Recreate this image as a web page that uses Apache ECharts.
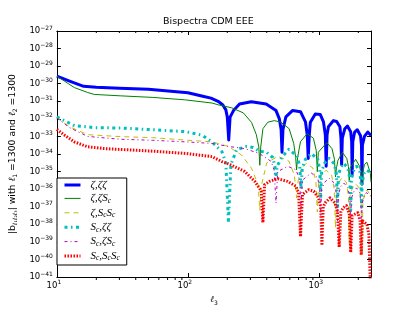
<!DOCTYPE html>
<html><head><meta charset="utf-8">
<script src="https://cdn.jsdelivr.net/npm/echarts@6/dist/echarts.min.js"></script>
<style>html,body{margin:0;padding:0;background:#fff}#c{width:413px;height:311px}</style>
</head><body><div id="c"></div>
<script>
// ---- data (y values are log10 |b|, in decades) ----
const seriesNames = ['ζ,ζζ', 'ζ,ζSc', 'ζ,ScSc', 'Sc,ζζ', 'Sc,ζSc', 'Sc,ScSc'];
const legendLabels = [
  '{m|ζ,ζζ}',
  '{m|ζ,ζS}{s|c}',
  '{m|ζ,S}{s|c}{m|S}{s|c}',
  '{m|S}{s|c}{m|,ζζ}',
  '{m|S}{s|c}{m|,ζS}{s|c}',
  '{m|S}{s|c}{m|,S}{s|c}{m|S}{s|c}'
];
const xTickValues = [10, 100, 1000];
const xMinorTicks = [20,30,40,50,60,70,80,90,200,300,400,500,600,700,800,900,2000];

const ellZZZ = [10,12.5,16,20,30,50,100,130,150,170,185,195,200,205,210,223,248,305,396,471,499,515,523,532,560,631,724,790,815,829,845,861,939,1024,1084,1120,1137,1155,1183,1290,1367,1448,1475,1491,1510,1578,1652,1749,1780,1795,1815,1875,1965,2080,2115,2133,2150,2228,2360,2500];
const logbZZZ = [-29.57,-29.85,-30.15,-30.2,-30.26,-30.31,-30.51,-30.71,-30.82,-31.0,-31.21,-31.49,-31.9,-33.2,-31.9,-31.53,-31.16,-31.03,-31.16,-31.53,-32.0,-32.6,-33.9,-32.6,-31.89,-31.52,-31.59,-32.17,-32.9,-34.25,-32.9,-32.19,-31.72,-31.75,-32.17,-32.9,-34.7,-32.9,-32.45,-32.1,-32.15,-32.45,-33.1,-34.6,-33.1,-32.56,-32.41,-32.73,-33.3,-35.15,-33.3,-32.75,-32.62,-32.96,-33.5,-35.7,-33.5,-33.0,-32.75,-32.95];

const ellZZS = [10,13.6,17.2,19.3,30.5,54,96,153,172,216,265,306,333,348,354,360,374,408,457,513,593,643,665,676,688,724,814,908,955,973,990,1025,1151,1260,1315,1339,1362,1399,1512,1633,1680,1706,1730,1781,1909,2045,2100,2135,2170,2230,2329,2474,2500];
const logbZZS = [-29.57,-30.22,-30.5,-30.61,-30.69,-30.78,-30.92,-31.1,-31.21,-31.37,-31.66,-32.2,-32.9,-33.6,-34.64,-33.6,-32.56,-32.19,-32.1,-32.19,-32.56,-33.4,-34.2,-34.9,-34.2,-33.3,-32.84,-33.1,-33.8,-35.0,-33.9,-33.8,-33.35,-33.7,-34.3,-35.3,-34.8,-34.36,-33.91,-34.25,-34.7,-35.5,-34.8,-34.7,-34.3,-34.7,-35.1,-35.8,-35.0,-34.6,-34.47,-35.1,-35.6];

const ellZSS = [10,12.5,17.2,30.5,54,97,153,204,257,306,344,354,364,400,487,590,650,676,700,740,803,900,950,973,995,1050,1135,1250,1310,1339,1365,1420,1496,1620,1680,1706,1730,1800,1909,2040,2100,2135,2170,2240,2329,2500];
const logbZSS = [-31.94,-32.45,-32.9,-33.01,-33.07,-33.21,-33.31,-33.57,-34.06,-34.81,-35.75,-37.2,-35.8,-34.5,-34.13,-34.4,-35.2,-36.5,-35.3,-34.8,-34.53,-34.8,-35.6,-37.3,-35.7,-35.2,-34.92,-35.2,-36.0,-38.2,-36.0,-35.6,-35.37,-35.6,-36.4,-39.1,-36.4,-35.95,-35.7,-35.95,-36.7,-39.7,-36.7,-36.3,-36.05,-36.4];

const ellSZZ = [10,13.6,19.3,30.5,54,97,129,153,182,195,204,213,236,281,315,353,396,445,462,471,480,520,589,680,715,731,747,790,877,980,1015,1032,1050,1110,1197,1310,1365,1387,1410,1470,1549,1660,1725,1750,1775,1860,1941,2050,2095,2118,2140,2220,2306,2420,2500];
const logbSZZ = [-31.89,-32.38,-32.5,-32.52,-32.62,-32.73,-32.94,-33.31,-33.87,-34.53,-37.9,-34.6,-33.75,-33.57,-33.63,-33.85,-33.88,-34.2,-34.7,-35.3,-34.7,-34.2,-33.74,-34.1,-34.7,-36.0,-34.8,-34.3,-33.97,-34.3,-34.9,-36.5,-35.0,-34.5,-34.25,-34.55,-35.2,-37.0,-35.2,-34.75,-34.53,-34.8,-35.4,-37.2,-35.4,-34.85,-34.7,-35.0,-35.6,-37.0,-35.6,-35.1,-34.92,-35.0,-35.2];

const ellSZS = [10,12.5,17.2,30.5,54,96,153,204,271,351,432,455,471,485,530,579,670,715,731,747,800,877,980,1015,1032,1050,1110,1197,1310,1365,1387,1410,1470,1549,1660,1725,1750,1775,1860,1941,2050,2095,2118,2140,2220,2306,2500];
const logbSZS = [-31.95,-32.5,-33.0,-33.16,-33.22,-33.31,-33.4,-33.57,-33.69,-33.97,-34.42,-34.9,-36.8,-35.0,-34.85,-34.7,-34.9,-35.5,-37.2,-35.5,-35.3,-35.09,-35.35,-36.0,-37.5,-36.0,-35.6,-35.37,-35.65,-36.3,-37.8,-36.3,-35.85,-35.65,-35.9,-36.5,-38.0,-36.5,-36.1,-35.93,-36.2,-36.8,-38.0,-36.8,-36.4,-36.2,-36.4];

const ellSSS = [10,11.5,13.6,17.2,22.9,30.5,54,97,153,182,204,271,324,363,374,385,420,485,577,665,700,724,750,764,837,913,995,1032,1055,1080,1117,1218,1328,1387,1429,1472,1531,1624,1706,1750,1795,1875,1986,2063,2105,2152,2228,2329,2410,2470];
const logbSSS = [-32.6,-32.94,-33.31,-33.59,-33.69,-33.74,-33.84,-33.97,-34.15,-34.43,-34.56,-34.99,-35.56,-36.1,-37.9,-35.75,-35.56,-35.41,-35.56,-35.82,-36.2,-38.7,-36.3,-36.2,-36.03,-36.12,-36.5,-37.0,-39.2,-37.0,-36.78,-36.5,-36.78,-37.3,-39.3,-37.3,-37.06,-36.94,-37.4,-39.6,-37.5,-37.43,-37.34,-37.8,-39.75,-37.8,-37.9,-38.0,-38.6,-41.3];

// ---- styling ----
const ellArrays = [ellZZZ, ellZZS, ellZSS, ellSZZ, ellSZS, ellSSS];
const valArrays = [logbZZZ, logbZZS, logbZSS, logbSZZ, logbSZS, logbSSS];
const colors = ['#0000ff', '#008000', '#bfbf00', '#00bfbf', '#bf00bf', '#ff0000'];
const widths = [3, 1, 1, 3, 1, 3];
const dashTypes = ['solid', 'solid', [5, 4], [3, 3.5, 1.5, 3.5], [3, 3, 1, 3], [1.5, 1.5]];

const labelMap = {};
seriesNames.forEach((n, i) => labelMap[n] = legendLabels[i]);

const chart = echarts.init(document.getElementById('c'), null, {renderer: 'canvas'});
const tickFont = 'DejaVu Sans';
const powRich = {
  b: {fontFamily: tickFont, fontSize: 8.5, lineHeight: 12, color: '#000'},
  p: {fontFamily: tickFont, fontSize: 6, lineHeight: 3, verticalAlign: 'top', color: '#000'}
};
function powText(e) {
  return '{b|10}{p|' + (e < 0 ? '\u2212' + (-e) : e) + '}';
}
const gridBox = {left: 52, right: 42, top: 31, bottom: 31};

const series = seriesNames.map((name, i) => ({
  name, type: 'line', xAxisIndex: 0, yAxisIndex: 0,
  symbol: 'none', showSymbol: false, silent: true, clip: true,
  data: ellArrays[i].map((l, j) => [l, valArrays[i][j]]),
  lineStyle: {color: colors[i], width: widths[i], type: dashTypes[i], cap: 'butt', join: 'round'},
  itemStyle: {color: colors[i], opacity: 0},
  z: 2 + i
}));

const axisLineStyle = {show: true, lineStyle: {color: '#000', width: 1}};
const tickStyle = {show: true, inside: true, length: 4, lineStyle: {color: '#000'}};
chart.setOption({
  animation: false,
  backgroundColor: '#fff',
  title: {text: 'Bispectra CDM EEE', left: 163, top: 17, padding: 0,
    textStyle: {fontFamily: tickFont, fontSize: 9.5, fontWeight: 'normal', color: '#000'}},
  grid: gridBox,
  legend: {
    orient: 'vertical', left: 57, top: 178,
    data: seriesNames.map((n, i) => ({name: n,
      lineStyle: {width: widths[i], type: dashTypes[i], color: colors[i], cap: 'butt'}})),
    itemWidth: 16, itemHeight: 10, itemGap: 2.4,
    padding: [1.5, 7, 2.5, 6],
    borderColor: '#000', borderWidth: 1, borderRadius: 0,
    backgroundColor: '#fff',
    itemStyle: {opacity: 0},
    formatter: n => labelMap[n],
    textStyle: {
      padding: [0, 0, 0, 5],
      rich: {
        m: {fontFamily: 'Liberation Serif', fontStyle: 'italic', fontSize: 11, lineHeight: 13, color: '#000'},
        s: {fontFamily: 'Liberation Serif', fontStyle: 'italic', fontSize: 7.5, lineHeight: 6, verticalAlign: 'bottom', color: '#000'}
      }
    }
  },
  xAxis: [
    {type: 'log', logBase: 10, min: 10, max: 2500, position: 'bottom',
     axisLine: axisLineStyle, splitLine: {show: false}, axisTick: tickStyle,
     axisLabel: {margin: 2.5, padding: [0, 6, 0, 0],
       formatter: v => {
         const e = Math.log10(v);
         return xTickValues.some(t => Math.abs(e - Math.log10(t)) < 1e-6) ? powText(Math.round(e)) : '';
       },
       rich: powRich},
     name: '{i|ℓ}{s|3}', nameLocation: 'middle', nameGap: 17,
     nameTextStyle: {rich: {
       i: {fontFamily: 'DejaVu Serif', fontStyle: 'italic', fontSize: 9, lineHeight: 12, color: '#000'},
       s: {fontFamily: tickFont, fontSize: 6, lineHeight: 6, verticalAlign: 'bottom', color: '#000'}}}
    },
    {type: 'log', logBase: 10, min: 10, max: 2500, position: 'top',
     axisLine: axisLineStyle, splitLine: {show: false}, axisTick: tickStyle,
     axisLabel: {show: false}}
  ],
  yAxis: [
    {type: 'value', min: -41, max: -27, interval: 1, position: 'left',
     axisLine: axisLineStyle, splitLine: {show: false}, axisTick: tickStyle,
     axisLabel: {margin: 4, formatter: v => powText(Math.round(v)), rich: powRich},
     name: '|b{s|ℓ₁ℓ₂ℓ₃}| with {i|ℓ}{s|1} =1300 and {i|ℓ}{s|2} =1300',
     nameLocation: 'middle', nameGap: 31, nameRotate: 90,
     nameTextStyle: {fontFamily: tickFont, fontSize: 9.3, color: '#000', rich: {
       i: {fontFamily: 'DejaVu Serif', fontStyle: 'italic', fontSize: 9.3, lineHeight: 12, color: '#000'},
       s: {fontFamily: tickFont, fontSize: 6, lineHeight: 6, verticalAlign: 'bottom', color: '#000'}}}
    },
    {type: 'value', min: -41, max: -27, interval: 1, position: 'right',
     axisLine: axisLineStyle, splitLine: {show: false}, axisTick: tickStyle,
     axisLabel: {show: false}}
  ],
  series
});

// minor ticks of the log x axis, placed through the axis scale
const plotTop = gridBox.top, plotBottom = 311 - gridBox.bottom;
const minor = [];
xMinorTicks.forEach(v => {
  const px = chart.convertToPixel({xAxisIndex: 0}, v);
  minor.push({type: 'line', silent: true, z: 100,
    shape: {x1: px, y1: plotBottom, x2: px, y2: plotBottom - 2}, style: {stroke: '#000', lineWidth: 1}});
  minor.push({type: 'line', silent: true, z: 100,
    shape: {x1: px, y1: plotTop, x2: px, y2: plotTop + 2}, style: {stroke: '#000', lineWidth: 1}});
});
chart.setOption({graphic: minor});
</script>
</body></html>
